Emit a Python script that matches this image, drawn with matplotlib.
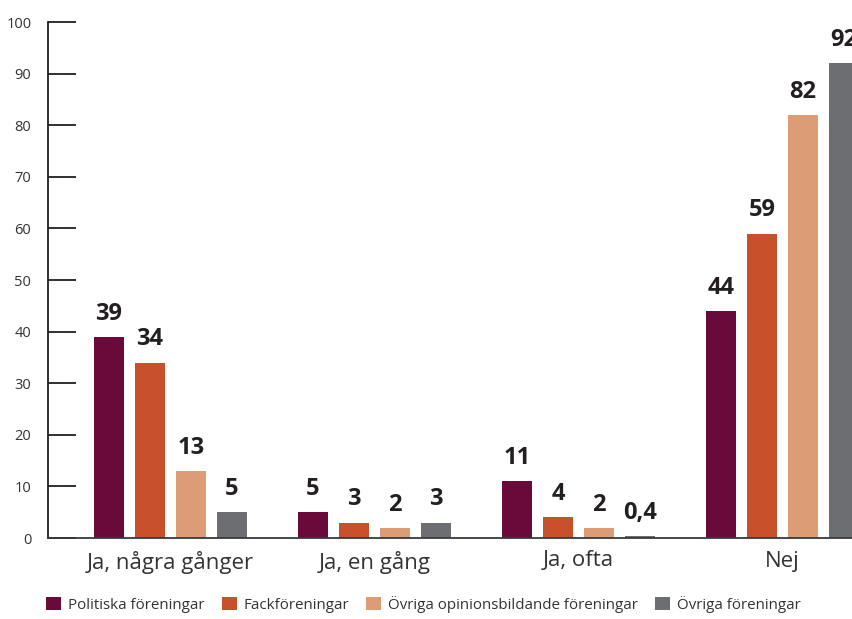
import numpy as np
import matplotlib
matplotlib.use("Agg")
import matplotlib.pyplot as plt

plt.rcParams['font.family'] = ['Open Sans', 'DejaVu Sans']

# data
categories = ["Ja, några gånger", "Ja, en gång", "Ja, ofta", "Nej"]
series = ["Politiska föreningar", "Fackföreningar",
          "Övriga opinionsbildande föreningar", "Övriga föreningar"]
politiska = [39, 5, 11, 44]
fack = [34, 3, 4, 59]
opinion = [13, 2, 2, 82]
ovriga = [5, 3, 0.4, 92]
values = [politiska, fack, opinion, ovriga]
colors = ["#690A3A", "#C8512C", "#DC9D76", "#6D6E71"]

fig = plt.figure(figsize=(8.53, 6.19), dpi=100)
ax = fig.add_axes([48 / 853, 1 - 538 / 619, 1 - 48 / 853, (538 - 22) / 619])

x = np.arange(len(categories))
step = 41 / 204
width = 30 / 204
for i, (vals, col, name) in enumerate(zip(values, colors, series)):
    pos = x + (i - 1.5) * step
    bars = ax.bar(pos, vals, width=width, color=col, label=name, zorder=2)
    for b, v in zip(bars, vals):
        txt = str(v).replace(".", ",")
        ax.annotate(txt, (b.get_x() + b.get_width() / 2, v),
                    xytext=(0, 8), textcoords="offset points",
                    ha="center", va="bottom", fontsize=17,
                    fontweight="bold", color="#231F20",
                    annotation_clip=False)

ax.set_xlim(-0.6, 3.346)
ax.set_ylim(0, 100)
ax.set_yticks(range(0, 101, 10))
ax.set_xticks(x)
ax.set_xticklabels(categories, fontsize=16, color="#333333")
ax.tick_params(axis="x", length=0, pad=9)
ax.tick_params(axis="y", direction="in", length=20, width=1.3,
               labelsize=10.5, labelcolor="#333333", pad=12, color="#231F20")

for s in ["top", "right"]:
    ax.spines[s].set_visible(False)
ax.spines["left"].set_linewidth(1.3)
ax.spines["left"].set_color("#231F20")
ax.spines["bottom"].set_linewidth(1.3)
ax.spines["bottom"].set_color("#3a3a3a")

leg = fig.legend(loc="lower left", bbox_to_anchor=(0.038, -0.012), ncol=4,
                 frameon=False, fontsize=10.9, handlelength=1.0,
                 handleheight=1.0, handletextpad=0.46, columnspacing=1.12)
for t in leg.get_texts():
    t.set_color("#333333")

fig.savefig("out.png", dpi=100)
